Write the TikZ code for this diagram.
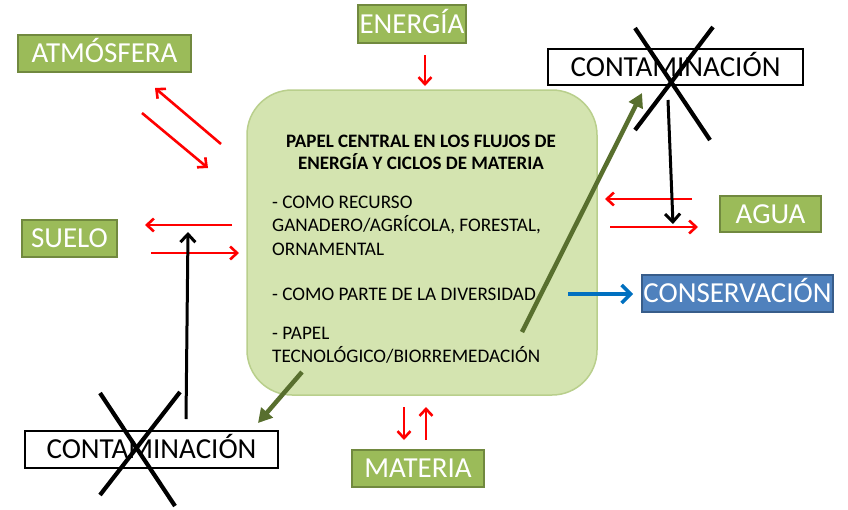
\documentclass[tikz,border=0pt]{standalone}
\usepackage{fontspec}
\setmainfont{Carlito}
\usetikzlibrary{arrows.meta}
\definecolor{lblfill}{HTML}{9BBB59}
\definecolor{lbldraw}{HTML}{71893F}
\definecolor{cfill}{HTML}{D4E4B0}
\definecolor{cdraw}{HTML}{B9CF8C}
\definecolor{bluefill}{HTML}{4F81BD}
\definecolor{bluedraw}{HTML}{385D8A}
\definecolor{darkgreen}{HTML}{586F2E}
\definecolor{flowred}{HTML}{FF0000}
\definecolor{flowblue}{HTML}{0070C0}
\tikzset{
  lbl/.style={fill=lblfill,draw=lbldraw,line width=1.2pt,text=white,inner sep=0pt,
    text height=18.5pt,text depth=0pt,font=\fontsize{29}{31}\selectfont},
  contbox/.style={fill=white,draw=black,line width=1.5pt,text=black,inner sep=0pt,
    text height=18.5pt,text depth=0pt,font=\fontsize{29}{31}\selectfont},
  consbox/.style={fill=bluefill,draw=bluedraw,line width=1.2pt,text=white,inner sep=0pt,
    text height=18.5pt,text depth=0pt,font=\fontsize{29}{31}\selectfont},
  central/.style={fill=cfill,draw=cdraw,line width=1.5pt,rounded corners=45pt},
  ctitle/.style={anchor=base,inner sep=0pt,font=\fontsize{19}{21}\selectfont\bfseries},
  citem/.style={anchor=base west,inner sep=0pt,font=\fontsize{19.2}{21}\selectfont},
  redflow/.style={draw=flowred,line width=2.6pt,-{Straight Barb[length=7pt,width=13pt,line width=2.6pt]}},
  blackflow/.style={draw=black,line width=3pt,-{Straight Barb[length=8pt,width=15pt,line width=3pt]}},
  greenflow/.style={draw=darkgreen,line width=4.5pt,-{Triangle[length=14pt,width=15pt]}},
  blueflow/.style={draw=flowblue,line width=3.5pt,-{Straight Barb[length=9pt,width=18pt,line width=3.5pt]}},
  cross/.style={draw=black,line width=4.2pt}
}
\begin{document}
\begin{tikzpicture}[x=1pt,y=1pt]
\useasboundingbox[fill=white] (0,0) rectangle (848,-509);
% central box
\node[central,minimum width=350pt,minimum height=305pt] (c) at (422,-242.5) {};
\node[ctitle] (t1) at (421,-147) {PAPEL CENTRAL EN LOS FLUJOS DE};
\node[ctitle] (t2) at (421,-169) {ENERGÍA Y CICLOS DE MATERIA};
\node[citem] (i1) at (272,-208) {- COMO RECURSO};
\node[citem] (i2) at (272,-231) {GANADERO/AGRÍCOLA, FORESTAL,};
\node[citem] (i3) at (272,-255) {ORNAMENTAL};
\node[citem] (i4) at (272,-300) {- COMO PARTE DE LA DIVERSIDAD};
\node[citem] (i5) at (272,-339) {- PAPEL};
\node[citem] (i6) at (272,-362) {TECNOLÓGICO/BIORREMEDACIÓN};
% labels
\node[lbl,minimum width=108pt,minimum height=38pt] (energia) at (412,-24) {ENERGÍA};
\node[lbl,minimum width=173pt,minimum height=37pt] (atm) at (104.5,-53.5) {ATMÓSFERA};
\node[lbl,minimum width=95pt,minimum height=37pt] (suelo) at (69.5,-238.5) {SUELO};
\node[lbl,minimum width=101pt,minimum height=36pt] (agua) at (770.5,-214) {AGUA};
\node[lbl,minimum width=132pt,minimum height=37pt] (materia) at (418,-468.5) {MATERIA};
\node[consbox,minimum width=191pt,minimum height=37pt] (cons) at (737.5,-293.5) {CONSERVACIÓN};
\node[contbox,minimum width=255pt,minimum height=36pt] (contt) at (675.5,-67) {CONTAMINACIÓN};
\node[contbox,minimum width=253pt,minimum height=37pt] (contb) at (151.5,-449.5) {CONTAMINACIÓN};
% coordinates for free ends
\coordinate (e1) at (425,-55); \coordinate (e2) at (425,-86);
\coordinate (a1) at (221,-144); \coordinate (a2) at (155,-88);
\coordinate (a3) at (142,-113); \coordinate (a4) at (208,-168);
\coordinate (s1) at (232,-225); \coordinate (s2) at (145,-225);
\coordinate (s3) at (151,-253); \coordinate (s4) at (239,-253);
\coordinate (w1) at (692,-199); \coordinate (w2) at (605,-199);
\coordinate (w3) at (610,-227); \coordinate (w4) at (698,-227);
\coordinate (m1) at (404,-407); \coordinate (m2) at (404,-440);
\coordinate (m3) at (426,-440); \coordinate (m4) at (426,-407);
\coordinate (b1) at (568,-294); \coordinate (b2) at (633,-294);
\coordinate (k1) at (668,-100); \coordinate (k2) at (673,-224);
\coordinate (k3) at (186,-419); \coordinate (k4) at (188,-232);
\coordinate (g1) at (522,-332); \coordinate (g2) at (642,-93);
\coordinate (g3) at (302,-372); \coordinate (g4) at (258,-423);
% red flows
\draw[redflow] (e1) -- (e2);
\draw[redflow] (a1) -- (a2);
\draw[redflow] (a3) -- (a4);
\draw[redflow] (s1) -- (s2);
\draw[redflow] (s3) -- (s4);
\draw[redflow] (w1) -- (w2);
\draw[redflow] (w3) -- (w4);
\draw[redflow] (m1) -- (m2);
\draw[redflow] (m3) -- (m4);
% blue
\draw[blueflow] (b1) -- (b2);
% black
\draw[blackflow] (k1) -- (k2);
\draw[blackflow] (k3) -- (k4);
% green
\draw[greenflow] (g1) -- (g2);
\draw[greenflow] (g3) -- (g4);
% crosses
\coordinate (x1) at (635,-28); \coordinate (x2) at (710,-140);
\coordinate (x3) at (713,-27); \coordinate (x4) at (635,-130);
\coordinate (x5) at (100,-393); \coordinate (x6) at (175,-506);
\coordinate (x7) at (180,-392); \coordinate (x8) at (100,-495);
\draw[cross] (x1) -- (x2);
\draw[cross] (x3) -- (x4);
\draw[cross] (x5) -- (x6);
\draw[cross] (x7) -- (x8);
\end{tikzpicture}
\end{document}
